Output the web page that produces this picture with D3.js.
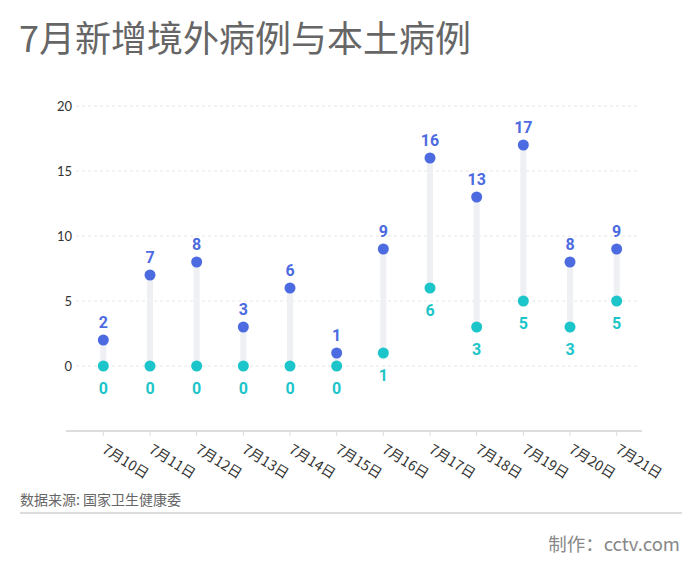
<!DOCTYPE html>
<html><head><meta charset="utf-8">
<script src="https://cdn.jsdelivr.net/npm/d3@7"></script>
<style>
body{margin:0;background:#fff;}
svg{display:block;font-family:"Noto Sans CJK SC","Noto Sans",sans-serif;}
</style></head>
<body>
<svg id="c" width="700" height="576"></svg>
<script>
const categories = ["7月10日","7月11日","7月12日","7月13日","7月14日","7月15日","7月16日","7月17日","7月18日","7月19日","7月20日","7月21日"];
const imported = [2,7,8,3,6,1,9,16,13,17,8,9];
const local = [0,0,0,0,0,0,1,6,3,5,3,5];
const yTicks = [0,5,10,15,20];

const svg = d3.select("#c");
const blue = "#4d6be0", teal = "#1cc5c9";

svg.append("text").attr("x",19).attr("y",52).attr("font-size",36).attr("fill","#666")
  .text("7月新增境外病例与本土病例");

const x = d3.scaleBand().domain(categories).range([80,640]);
const y = d3.scaleLinear().domain([-5,20]).range([431,106]);

// grid
const g = svg.append("g");
g.selectAll("line.grid").data(yTicks).join("line")
  .attr("x1",76).attr("x2",640)
  .attr("y1",d=>y(d)).attr("y2",d=>y(d))
  .attr("stroke","#e6e6e6").attr("stroke-dasharray","3,3").attr("stroke-width",1);
g.selectAll("text.yl").data(yTicks).join("text")
  .attr("x",72).attr("y",d=>y(d)+5).attr("text-anchor","end")
  .attr("font-size",13).attr("fill","#333").attr("font-family","Lato, 'Noto Sans', sans-serif").text(d=>d);

// x axis
const xAxis = d3.axisBottom(x).tickSize(5).tickSizeOuter(0);
const ax = svg.append("g").attr("transform","translate(0,431)").call(xAxis);
ax.select(".domain").remove();
ax.append("line").attr("x1",66).attr("x2",642).attr("y1",0).attr("y2",0).attr("stroke","#ddd").attr("stroke-width",2);
ax.selectAll(".tick line").attr("stroke","#ddd");
ax.selectAll(".tick text").attr("font-size",14).attr("fill","#333")
  .attr("font-family","'Noto Sans CJK SC',sans-serif")
  .attr("text-anchor","start").attr("dy",null).attr("y",0)
  .attr("transform","translate(-2,21) rotate(32)");

const cx = d => x(d) + x.bandwidth()/2;

// stems
svg.append("g").selectAll("line").data(categories).join("line")
  .attr("x1",cx).attr("x2",cx)
  .attr("y1",(d,i)=>y(imported[i])).attr("y2",(d,i)=>y(local[i]))
  .attr("stroke","#eef0f4").attr("stroke-width",6);

// dots
svg.append("g").selectAll("circle").data(categories).join("circle")
  .attr("cx",cx).attr("cy",(d,i)=>y(imported[i])).attr("r",5.5).attr("fill",blue);
svg.append("g").selectAll("circle").data(categories).join("circle")
  .attr("cx",cx).attr("cy",(d,i)=>y(local[i])).attr("r",5.5).attr("fill",teal);

// labels
svg.append("g").selectAll("text").data(categories).join("text")
  .attr("x",cx).attr("y",(d,i)=>y(imported[i])-12).attr("text-anchor","middle")
  .attr("font-size",16).attr("font-weight","bold").attr("fill",blue)
  .attr("font-family","Roboto, 'DejaVu Sans', sans-serif").text((d,i)=>imported[i]);
svg.append("g").selectAll("text").data(categories).join("text")
  .attr("x",cx).attr("y",(d,i)=>y(local[i])+28).attr("text-anchor","middle")
  .attr("font-size",16).attr("font-weight","bold").attr("fill",teal)
  .attr("font-family","Roboto, 'DejaVu Sans', sans-serif").text((d,i)=>local[i]);

// footer
svg.append("text").attr("x",20).attr("y",505).attr("font-size",14).attr("fill","#666")
  .text("数据来源: 国家卫生健康委");
svg.append("line").attr("x1",20).attr("x2",682).attr("y1",513).attr("y2",513).attr("stroke","#ddd").attr("stroke-width",2);
svg.append("text").attr("x",680).attr("y",551).attr("text-anchor","end").attr("font-size",18.5).attr("fill","#888")
  .text("制作：cctv.com");
</script>
</body></html>
